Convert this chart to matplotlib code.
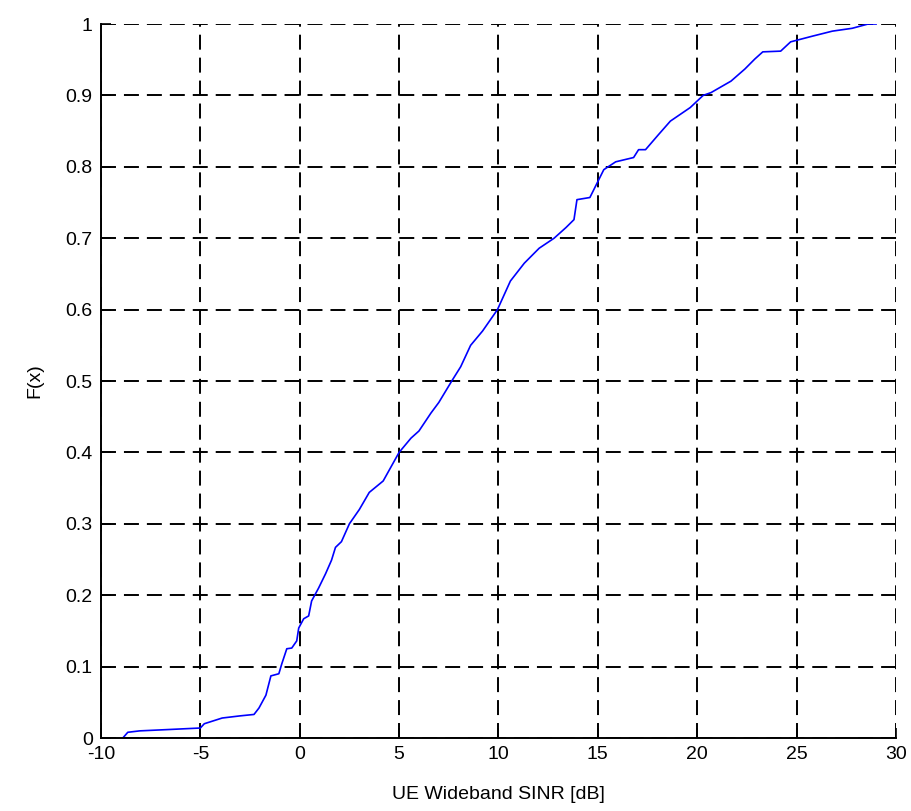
import matplotlib.pyplot as plt

# CDF of UE wideband SINR
sinr_db = [-8.9, -8.65, -8.05, -6.5, -5.0, -4.8, -3.9, -3.0, -2.3, -2.05, -1.7,
           -1.45, -1.05, -0.9, -0.65, -0.4, -0.15, -0.05, 0.2, 0.45, 0.6, 0.95,
           1.3, 1.6, 1.8, 2.1, 2.5, 3.0, 3.5, 4.2, 5.0, 5.6, 6.0, 6.6, 7.0, 7.65,
           8.1, 8.6, 9.2, 9.95, 10.6, 11.3, 12.05, 12.8, 13.4, 13.8, 13.95, 14.6,
           15.3, 15.9, 16.8, 17.05, 17.4, 18.05, 18.65, 19.65, 20.3, 20.7, 21.7,
           22.4, 22.9, 23.3, 24.2, 24.7, 25.8, 26.8, 27.8, 28.6, 29.0]
cdf = [0.0, 0.008, 0.01, 0.012, 0.014, 0.02, 0.028, 0.031, 0.033, 0.042, 0.06,
       0.087, 0.09, 0.104, 0.125, 0.126, 0.136, 0.154, 0.167, 0.171, 0.192, 0.21,
       0.23, 0.249, 0.267, 0.275, 0.3, 0.32, 0.344, 0.36, 0.4, 0.42, 0.43, 0.455,
       0.47, 0.5, 0.52, 0.55, 0.57, 0.6, 0.64, 0.665, 0.686, 0.7, 0.715, 0.726,
       0.754, 0.757, 0.796, 0.807, 0.813, 0.824, 0.824, 0.845, 0.864, 0.883, 0.9,
       0.904, 0.92, 0.937, 0.951, 0.961, 0.962, 0.975, 0.983, 0.99, 0.994, 1.0, 1.0]

x_ticks = [-10, -5, 0, 5, 10, 15, 20, 25, 30]
y_ticks = [0, 0.1, 0.2, 0.3, 0.4, 0.5, 0.6, 0.7, 0.8, 0.9, 1]
y_tick_labels = ["0", "0.1", "0.2", "0.3", "0.4", "0.5", "0.6", "0.7", "0.8", "0.9", "1"]

plt.rcParams["font.family"] = ["Liberation Sans", "DejaVu Sans"]

fig = plt.figure(figsize=(9.12, 8.11), dpi=100)
ax = fig.add_axes([0.1107, 0.090, 0.8717, 0.8804])

ax.plot(sinr_db, cdf, color="#0000ff", linewidth=1.2)

ax.set_xlim(-10, 30)
ax.set_ylim(0, 1)
ax.set_xticks(x_ticks)
ax.set_xticklabels([str(t) for t in x_ticks])
ax.set_yticks(y_ticks)
ax.set_yticklabels(y_tick_labels)

# MATLAB-like dashed black grid; only left and bottom axes drawn solid
ax.grid(True, color="black", linestyle=(0, (7.7, 4.1)), linewidth=1.4)
ax.set_axisbelow(True)
ax.spines["top"].set_visible(False)
ax.spines["right"].set_visible(False)
ax.spines["left"].set_linewidth(1.4)
ax.spines["bottom"].set_linewidth(1.4)
ax.tick_params(direction="in", length=7, width=1.2, labelsize=14, pad=6)

ax.set_xlabel("UE Wideband SINR [dB]", fontsize=14, labelpad=16)
ax.set_ylabel("F(x)", fontsize=14, labelpad=16)

fig.savefig("out.png", dpi=100)
plt.close(fig)
